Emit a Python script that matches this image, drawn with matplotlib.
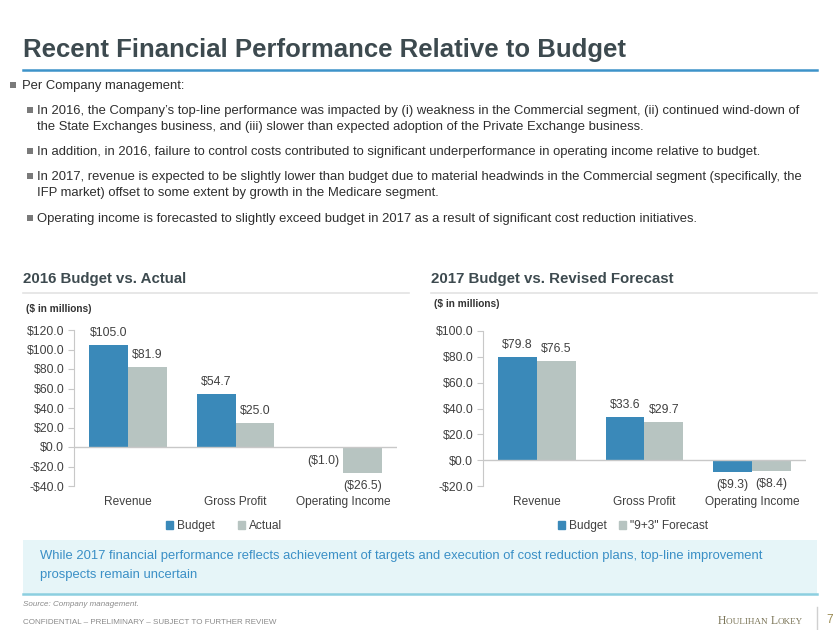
import matplotlib
matplotlib.use("Agg")
import matplotlib.pyplot as plt
from matplotlib.patches import Rectangle, Patch
from matplotlib.lines import Line2D
from matplotlib.ticker import FuncFormatter, MultipleLocator
import numpy as np

# Chart data ($ in millions)
categories = ["Revenue", "Gross Profit", "Operating Income"]
budget_2016 = [105.0, 54.7, -1.0]
actual_2016 = [81.9, 25.0, -26.5]
budget_2017 = [79.8, 33.6, -9.3]
forecast_2017 = [76.5, 29.7, -8.4]

# Slide text
title = "Recent Financial Performance Relative to Budget"
bullet_top = "Per Company management:"
sub_bullets = [
    ["In 2016, the Company\u2019s top-line performance was impacted by (i) weakness in the Commercial segment, (ii) continued wind-down of",
     "the State Exchanges business, and (iii) slower than expected adoption of the Private Exchange business."],
    ["In addition, in 2016, failure to control costs contributed to significant underperformance in operating income relative to budget."],
    ["In 2017, revenue is expected to be slightly lower than budget due to material headwinds in the Commercial segment (specifically, the",
     "IFP market) offset to some extent by growth in the Medicare segment."],
    ["Operating income is forecasted to slightly exceed budget in 2017 as a result of significant cost reduction initiatives."],
]
callout = ["While 2017 financial performance reflects achievement of targets and execution of cost reduction plans, top-line improvement",
           "prospects remain uncertain"]

BLUE = "#3a89b9"
GREY = "#b7c4c1"
DARK = "#3d4a4f"
TXT = "#404040"
AXIS = "#c8c8c8"

W, H = 840, 630
plt.rcParams["font.family"] = ["Liberation Sans", "DejaVu Sans"]

fig = plt.figure(figsize=(W / 100, H / 100), dpi=100)


def fx(x):
    return x / W


def fy(y):
    return 1 - y / H


def text(x, y, s, **kw):
    kw.setdefault("va", "center")
    kw.setdefault("ha", "left")
    return fig.text(fx(x), fy(y), s, **kw)


def hline(x0, x1, y, color, lw):
    fig.add_artist(Line2D([fx(x0), fx(x1)], [fy(y), fy(y)], color=color, lw=lw,
                          transform=fig.transFigure))


def bullet(x, y):
    fig.add_artist(Rectangle((fx(x), fy(y + 2)), 6 / W, 6 / H, transform=fig.transFigure,
                             facecolor="#7a7a7a", edgecolor="none"))


# Header
text(23, 50, title, fontsize=18.5, fontweight="bold", color=DARK)
hline(23, 817, 70, "#3d93c9", 1.8)

bullet(10, 86)
text(22, 86, bullet_top, fontsize=9.35, color="#2e2e2e")
line_y = [[111, 127], [152], [177, 193], [219]]
for lines, ys in zip(sub_bullets, line_y):
    bullet(27, ys[0])
    for s, y in zip(lines, ys):
        text(37, y, s, fontsize=9.35, color="#2e2e2e")

# Chart headings
text(23, 279, "2016 Budget vs. Actual", fontsize=10.8, fontweight="bold", color=DARK)
hline(23, 409, 293, "#e3e3e3", 1.2)
text(26, 309, "($ in millions)", fontsize=7.3, fontweight="bold", color="#333333")

text(431, 279, "2017 Budget vs. Revised Forecast", fontsize=10.8, fontweight="bold", color=DARK)
hline(431, 817, 293, "#e3e3e3", 1.2)
text(434, 304, "($ in millions)", fontsize=7.3, fontweight="bold", color="#333333")


def money(v, pos=None):
    return "-${:.1f}".format(-v) if v < 0 else "${:.1f}".format(v)


def bar_label(v):
    return "(${:.1f})".format(-v) if v < 0 else "${:.1f}".format(v)


def draw_chart(rect, s1, s2, ylim, names, legend_x, colspace):
    ax = fig.add_axes(rect)
    x = np.arange(len(categories))
    w = 0.36
    b1 = ax.bar(x - w / 2, s1, w, color=BLUE, label=names[0])
    b2 = ax.bar(x + w / 2, s2, w, color=GREY, label=names[1])
    for bars, vals in ((b1, s1), (b2, s2)):
        for b, v in zip(bars, vals):
            off = 12 if v >= 0 else -13
            ax.annotate(bar_label(v), (b.get_x() + b.get_width() / 2, v),
                        xytext=(0, off), textcoords="offset pixels",
                        ha="center", va="center", fontsize=8.8, color=TXT)
    ax.set_xlim(-0.5, len(categories) - 0.5)
    ax.set_ylim(*ylim)
    ax.yaxis.set_major_locator(MultipleLocator(20))
    ax.yaxis.set_major_formatter(FuncFormatter(money))
    ax.axhline(0, color=AXIS, lw=1)
    for sp in ("top", "right", "bottom"):
        ax.spines[sp].set_visible(False)
    ax.spines["left"].set_color(AXIS)
    ax.tick_params(axis="y", colors=AXIS, labelcolor=TXT, labelsize=8.8,
                   length=4, pad=3)
    ax.set_xticks(x)
    ax.set_xticklabels(categories)
    ax.tick_params(axis="x", length=0, labelsize=8.6, labelcolor=TXT, pad=7)
    handles = [Patch(color=BLUE), Patch(color=GREY)]
    fig.legend(handles, names, loc="center", bbox_to_anchor=(fx(legend_x), fy(526)),
               ncol=2, frameon=False, fontsize=8.6, handlelength=0.6,
               handleheight=0.6, handletextpad=0.3, columnspacing=colspace,
               labelcolor=TXT)
    return ax


draw_chart([fx(74), fy(486), 323 / W, 156 / H], budget_2016, actual_2016,
           (-40, 120), ["Budget", "Actual"], 224, 2.0)
draw_chart([fx(483), fy(486), 323 / W, 155 / H], budget_2017, forecast_2017,
           (-20, 100), ["Budget", "\"9+3\" Forecast"], 633, 1.0)

# Callout box
fig.add_artist(Rectangle((fx(23), fy(594)), 794 / W, 54 / H, transform=fig.transFigure,
                         facecolor="#e6f5f8", edgecolor="none"))
hline(23, 817, 594, "#8ccfe0", 1.8)
text(40, 556, callout[0], fontsize=9.35, color="#3a8fc6")
text(40, 575, callout[1], fontsize=9.35, color="#3a8fc6")

# Footer
text(23, 604, "Source: Company management.", fontsize=5.8, style="italic", color="#8a8a8a")
text(23, 623, "CONFIDENTIAL \u2013 PRELIMINARY \u2013 SUBJECT TO FURTHER REVIEW",
     fontsize=5.8, color="#8a8a8a")

# small-caps logo text, laid out piece by piece
renderer = fig.canvas.get_renderer()
xpos = 718
for piece, size in (("H", 8.4), ("OULIHAN ", 6.6), ("L", 8.4), ("OKEY", 6.6)):
    t = fig.text(fx(xpos), fy(624), piece, fontsize=size, color="#7a7456",
                 family="Liberation Serif", va="baseline", ha="left")
    xpos += t.get_window_extent(renderer).width
fig.add_artist(Line2D([fx(817), fx(817)], [fy(607), fy(633)], color="#d0d0d0", lw=1,
                      transform=fig.transFigure))
text(826, 620, "7", fontsize=8.5, color="#9a8a50")

fig.savefig("out.png", dpi=100)
